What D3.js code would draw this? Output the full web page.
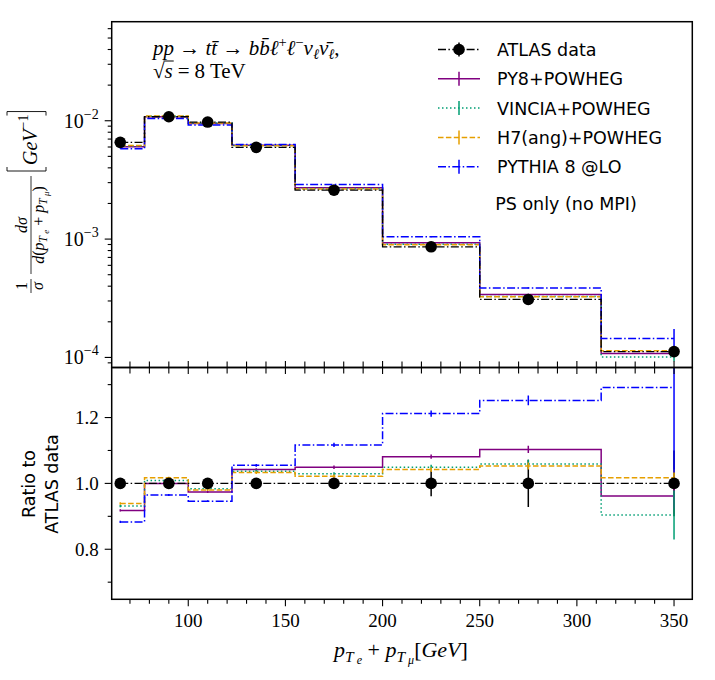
<!DOCTYPE html>
<html>
<head>
<meta charset="utf-8">
<script src="https://cdn.jsdelivr.net/npm/d3@7"></script>
<style>
  body { margin: 0; background: #fff; }
  .sans { font-family: 'DejaVu Sans', sans-serif; }
</style>
</head>
<body>
<div id="viz"></div>
<script>
// bin centres of pT(e) + pT(mu) in GeV
let ptSum = [65, 90, 110, 135, 175, 225, 275, 350];

// ATLAS data, normalised cross section [GeV^-1] and relative uncertainty
let atlasData = [6.57e-3, 1.081e-2, 9.75e-3, 5.96e-3, 2.59e-3, 8.61e-4, 3.09e-4, 1.12e-4];
let atlasErr  = [0.012, 0.010, 0.010, 0.012, 0.015, 0.039, 0.072, 0.10];

// predictions, top panel
let py8Powheg    = [6.03e-3, 1.081e-2, 9.50e-3, 6.21e-3, 2.72e-3, 9.31e-4, 3.41e-4, 1.077e-4];
let vinciaPowheg = [6.12e-3, 1.091e-2, 9.59e-3, 6.18e-3, 2.67e-3, 9.03e-4, 3.27e-4, 1.01e-4];
let h7Powheg     = [6.17e-3, 1.099e-2, 9.56e-3, 6.16e-3, 2.65e-3, 8.97e-4, 3.25e-4, 1.14e-4];
let pythiaLO     = [5.80e-3, 1.043e-2, 9.22e-3, 6.29e-3, 2.89e-3, 1.044e-3, 3.87e-4, 1.446e-4];

// ratio to ATLAS data, bottom panel
let atlasRatio  = [1, 1, 1, 1, 1, 1, 1, 1];
let py8Ratio    = [0.918, 1.000, 0.974, 1.042, 1.049, 1.081, 1.103, 0.962];
let vinciaRatio = [0.931, 1.009, 0.984, 1.037, 1.029, 1.049, 1.059, 0.904];
let h7Ratio     = [0.939, 1.017, 0.980, 1.033, 1.022, 1.042, 1.053, 1.017];
let pythiaRatio = [0.883, 0.965, 0.946, 1.055, 1.117, 1.212, 1.252, 1.291];

// MC statistical uncertainties (relative)
let py8Err    = [0.004, 0.003, 0.003, 0.004, 0.005, 0.006, 0.010, 0.040];
let vinciaErr = [0.004, 0.003, 0.003, 0.004, 0.005, 0.007, 0.012, 0.082];
let h7Err     = [0.004, 0.003, 0.003, 0.004, 0.005, 0.007, 0.010, 0.025];
let pythiaErr = [0.004, 0.003, 0.003, 0.004, 0.006, 0.008, 0.012, 0.200];

// tick labels
let xTicks = [100, 150, 200, 250, 300, 350];
let xMinor = [70, 80, 90, 110, 120, 130, 140, 160, 170, 180, 190, 210, 220, 230, 240, 260, 270, 280, 290, 310, 320, 330, 340];
let logTicks = [1e-4, 1e-3, 1e-2];
let logLabels = ['−4', '−3', '−2'];
let ratioTicks = [0.8, 1.0, 1.2];
let ratioMinor = [0.7, 0.9, 1.1, 1.3];

let series = [
  {name: 'PY8+POWHEG',     top: py8Powheg,    ratio: py8Ratio,    err: py8Err,    color: 'purple',  dash: null},
  {name: 'VINCIA+POWHEG',  top: vinciaPowheg, ratio: vinciaRatio, err: vinciaErr, color: '#009e73', dash: '1.5,2.5'},
  {name: 'H7(ang)+POWHEG', top: h7Powheg,     ratio: h7Ratio,     err: h7Err,     color: '#e69f00', dash: '5.5,2.4'},
  {name: 'PYTHIA 8 @LO',   top: pythiaLO,     ratio: pythiaRatio, err: pythiaErr, color: 'blue',    dash: '8,2.4,1.5,2.4'}
];

let W = 715, H = 680;
let left = 111.7, right = 692.3, topY = 21.7, midY = 367.5, bottomY = 599.3;

let svg = d3.select('#viz').append('svg')
  .attr('width', W).attr('height', H)
  .style('font-family', "'Liberation Serif', serif");

let x = d3.scaleLinear().domain([60.6, 359.4]).range([left, right]);
let yTop = d3.scaleLog().domain([8.22e-5, 6.87e-2]).range([midY, topY]);
let yRatio = d3.scaleLinear().domain([0.648, 1.352]).range([bottomY, midY]);

let defs = svg.append('defs');
defs.append('clipPath').attr('id', 'clipTop').append('rect')
  .attr('x', left).attr('y', topY).attr('width', right - left).attr('height', midY - topY);
defs.append('clipPath').attr('id', 'clipRatio').append('rect')
  .attr('x', left).attr('y', midY).attr('width', right - left).attr('height', bottomY - midY);

let gTop = svg.append('g').attr('clip-path', 'url(#clipTop)');
let gRatio = svg.append('g').attr('clip-path', 'url(#clipRatio)');

// draws one histogram (step at midpoints) with its error bars
function drawSeries(g, y, vals, err, color, dash, width) {
  let pts = ptSum.map((p, i) => [p, vals[i]]);
  g.selectAll(null).data(pts).join('line')
    .attr('x1', d => x(d[0])).attr('x2', d => x(d[0]))
    .attr('y1', (d, i) => y(d[1] * (1 - err[i])))
    .attr('y2', (d, i) => y(d[1] * (1 + err[i])))
    .attr('stroke', color).attr('stroke-width', 1.5);
  g.append('path')
    .datum(pts)
    .attr('d', d3.line().x(d => x(d[0])).y(d => y(d[1])).curve(d3.curveStep))
    .attr('fill', 'none')
    .attr('stroke', color)
    .attr('stroke-width', width)
    .attr('stroke-dasharray', dash);
}

function drawData(g, y, vals) {
  // data error bars first, underneath
  g.selectAll(null).data(vals).join('line')
    .attr('x1', (d, i) => x(ptSum[i])).attr('x2', (d, i) => x(ptSum[i]))
    .attr('y1', (d, i) => y(d * (1 - atlasErr[i])))
    .attr('y2', (d, i) => y(d * (1 + atlasErr[i])))
    .attr('stroke', '#000').attr('stroke-width', 1.5);
}

function drawDataTop(g, y, vals) {
  g.append('path')
    .datum(ptSum.map((p, i) => [p, vals[i]]))
    .attr('d', d3.line().x(d => x(d[0])).y(d => y(d[1])).curve(d3.curveStep))
    .attr('fill', 'none').attr('stroke', '#000').attr('stroke-width', 1.3)
    .attr('stroke-dasharray', '8,2.4,1.5,2.4');
  g.selectAll(null).data(vals).join('circle')
    .attr('cx', (d, i) => x(ptSum[i])).attr('cy', d => y(d)).attr('r', 5.8)
    .attr('fill', '#000');
}

// top panel
drawData(gTop, yTop, atlasData);
series.forEach(s => drawSeries(gTop, yTop, s.top, s.err, s.color, s.dash, 1.5));
drawDataTop(gTop, yTop, atlasData);

// ratio panel (ratio errors = relative error times ratio)
drawData(gRatio, yRatio, atlasRatio);
series.forEach(s => drawSeries(gRatio, yRatio, s.ratio, s.err, s.color, s.dash, 1.5));
drawDataTop(gRatio, yRatio, atlasRatio);

// frames
[[topY, midY], [midY, bottomY]].forEach(p => {
  svg.append('rect').attr('x', left).attr('y', p[0]).attr('width', right - left).attr('height', p[1] - p[0])
    .attr('fill', 'none').attr('stroke', '#000').attr('stroke-width', 1.5);
});

let ticks = svg.append('g').attr('stroke', '#000').attr('stroke-width', 1.1);

// top y axis ticks (log)
let logMinor = yTop.ticks().filter(v => logTicks.indexOf(v) < 0 && Math.abs(Math.log10(v) - Math.round(Math.log10(v))) > 1e-6);
logTicks.forEach(v => ticks.append('line').attr('x1', left - 7).attr('x2', left).attr('y1', yTop(v)).attr('y2', yTop(v)));
logMinor.forEach(v => ticks.append('line').attr('x1', left - 4).attr('x2', left).attr('y1', yTop(v)).attr('y2', yTop(v)));
logTicks.forEach((v, i) => {
  let t = svg.append('text').attr('x', left - 13).attr('y', yTop(v) + 7)
    .attr('text-anchor', 'end').attr('font-size', 20);
  t.append('tspan').text('10');
  t.append('tspan').attr('dy', -9).attr('font-size', 14).text(logLabels[i]);
});

// ratio y axis ticks
ratioTicks.forEach(v => ticks.append('line').attr('x1', left - 7).attr('x2', left).attr('y1', yRatio(v)).attr('y2', yRatio(v)));
ratioMinor.forEach(v => ticks.append('line').attr('x1', left - 4).attr('x2', left).attr('y1', yRatio(v)).attr('y2', yRatio(v)));
ratioTicks.forEach(v => {
  svg.append('text').attr('x', left - 13).attr('y', yRatio(v) + 6.5)
    .attr('text-anchor', 'end').attr('font-size', 19).text(d3.format('.1f')(v));
});

// x ticks: bottom axis and shared boundary
xTicks.forEach(v => {
  ticks.append('line').attr('x1', x(v)).attr('x2', x(v)).attr('y1', bottomY).attr('y2', bottomY + 7);
  ticks.append('line').attr('x1', x(v)).attr('x2', x(v)).attr('y1', midY - 6.5).attr('y2', midY + 6.5);
  svg.append('text').attr('x', x(v)).attr('y', 627).attr('text-anchor', 'middle').attr('font-size', 19).text(v);
});
xMinor.forEach(v => {
  ticks.append('line').attr('x1', x(v)).attr('x2', x(v)).attr('y1', bottomY).attr('y2', bottomY + 4.5);
  ticks.append('line').attr('x1', x(v)).attr('x2', x(v)).attr('y1', midY - 6).attr('y2', midY + 6);
});

// x axis label
let xl = svg.append('text').attr('x', 401).attr('y', 657).attr('text-anchor', 'middle')
  .attr('font-size', 22).attr('font-style', 'italic');
xl.append('tspan').text('p');
xl.append('tspan').attr('dy', 4.5).attr('font-size', 15.5).text('T');
xl.append('tspan').attr('dy', 2.5).attr('font-size', 12).text(' e');
xl.append('tspan').attr('dy', -7).attr('font-style', 'normal').text(' + ');
xl.append('tspan').text('p');
xl.append('tspan').attr('dy', 4.5).attr('font-size', 15.5).text('T');
xl.append('tspan').attr('dy', 2.5).attr('font-size', 12).text(' μ');
xl.append('tspan').attr('dy', -7).attr('font-style', 'normal').text('[');
xl.append('tspan').text('GeV');
xl.append('tspan').attr('font-style', 'normal').text(']');

// top y label, rotated, built from pieces
let yl = svg.append('g').attr('transform', 'translate(31,198) rotate(-90)').attr('font-style', 'italic');
yl.append('text').attr('x', -88).attr('y', -4).attr('text-anchor', 'middle').attr('font-size', 16).attr('font-style', 'normal').text('1');
yl.append('line').attr('x1', -95).attr('x2', -81).attr('y1', 0).attr('y2', 0).attr('stroke', '#000').attr('stroke-width', 0.8);
yl.append('text').attr('x', -88).attr('y', 12).attr('text-anchor', 'middle').attr('font-size', 16).text('σ');
yl.append('text').attr('x', -27).attr('y', -4).attr('text-anchor', 'middle').attr('font-size', 16).text('dσ');
yl.append('line').attr('x1', -76).attr('x2', 22).attr('y1', 0).attr('y2', 0).attr('stroke', '#000').attr('stroke-width', 0.8);
let den = yl.append('text').attr('x', -27).attr('y', 13).attr('text-anchor', 'middle').attr('font-size', 16);
den.append('tspan').text('d');
den.append('tspan').attr('font-style', 'normal').text('(');
den.append('tspan').text('p');
den.append('tspan').attr('dy', 3).attr('font-size', 11.5).text('T');
den.append('tspan').attr('dy', 1.5).attr('font-size', 9).text(' e');
den.append('tspan').attr('dy', -4.5).attr('font-style', 'normal').text(' + ');
den.append('tspan').text('p');
den.append('tspan').attr('dy', 3).attr('font-size', 11.5).text('T');
den.append('tspan').attr('dy', 1.5).attr('font-size', 9).text(' μ');
den.append('tspan').attr('dy', -4.5).attr('font-style', 'normal').text(')');
// brackets around GeV^-1
yl.append('path').attr('d', 'M31,-24 L27,-24 L27,15 L31,15').attr('fill', 'none').attr('stroke', '#000').attr('stroke-width', 0.9);
let gev = yl.append('text').attr('x', 33).attr('y', 6).attr('font-size', 20);
gev.append('tspan').text('GeV');
gev.append('tspan').attr('dy', -9).attr('font-size', 14).attr('font-style', 'normal').text('−1');
let gevEnd = 33 + gev.node().getComputedTextLength() + 3;
yl.append('path').attr('d', `M${gevEnd - 4},-24 L${gevEnd},-24 L${gevEnd},15 L${gevEnd - 4},15`)
  .attr('fill', 'none').attr('stroke', '#000').attr('stroke-width', 0.9);

// ratio y label
let rl = svg.append('g').attr('transform', 'translate(0,484) rotate(-90)')
  .attr('class', 'sans').attr('font-size', 17.5).attr('text-anchor', 'middle');
rl.append('text').attr('x', 0).attr('y', 35).text('Ratio to');
rl.append('text').attr('x', 0).attr('y', 58).text('ATLAS data');

// process label
let t1 = svg.append('text').attr('x', 153).attr('y', 55).attr('font-size', 21);
t1.append('tspan').attr('font-style', 'italic').text('pp');
t1.append('tspan').text(' → ');
t1.append('tspan').attr('font-style', 'italic').text('tt\u0304');
t1.append('tspan').text(' → ');
t1.append('tspan').attr('font-style', 'italic').text('bb\u0304ℓ');
t1.append('tspan').attr('dy', -8).attr('font-size', 14.5).text('+');
t1.append('tspan').attr('dy', 8).attr('font-style', 'italic').text('ℓ');
t1.append('tspan').attr('dy', -8).attr('font-size', 14.5).text('−');
t1.append('tspan').attr('dy', 8).attr('font-style', 'italic').text('ν');
t1.append('tspan').attr('dy', 4).attr('font-size', 14.5).attr('font-style', 'italic').text('ℓ');
t1.append('tspan').attr('dy', -4).attr('font-style', 'italic').text('ν\u0304');
t1.append('tspan').attr('dy', 4).attr('font-size', 14.5).attr('font-style', 'italic').text('ℓ');
t1.append('tspan').attr('dy', -4).text(',');

let t2 = svg.append('text').attr('x', 153).attr('y', 78).attr('font-size', 21);
t2.append('tspan').text('√');
t2.append('tspan').attr('font-style', 'italic').text('s');
t2.append('tspan').attr('dx', 5).text('=');
t2.append('tspan').attr('dx', 5).text('8 TeV');
let sBox = t2.node().getExtentOfChar(1);
svg.append('line').attr('x1', sBox.x - 1).attr('x2', sBox.x + sBox.width + 1)
  .attr('y1', 61).attr('y2', 61).attr('stroke', '#000').attr('stroke-width', 1);

// legend
let legX0 = 438, legX1 = 480, legTextX = 497, legY0 = 49.5, legStep = 29.3;
let leg = svg.append('g');
let legItems = [{name: 'ATLAS data', color: '#000', dash: '8,2.4,1.5,2.4'}].concat(series);
legItems.forEach((s, i) => {
  let yy = legY0 + i * legStep;
  leg.append('line').attr('x1', legX0).attr('x2', legX1).attr('y1', yy).attr('y2', yy)
    .attr('stroke', s.color).attr('stroke-width', 1.5).attr('stroke-dasharray', s.dash);
  leg.append('line').attr('x1', (legX0 + legX1) / 2).attr('x2', (legX0 + legX1) / 2)
    .attr('y1', yy - 7).attr('y2', yy + 7).attr('stroke', s.color).attr('stroke-width', 1.5);
  if (i === 0) leg.append('circle').attr('cx', (legX0 + legX1) / 2).attr('cy', yy).attr('r', 5.8).attr('fill', '#000');
  leg.append('text').attr('class', 'sans').attr('x', legTextX).attr('y', yy + 6.5)
    .attr('font-size', 17.5).text(s.name);
});
leg.append('text').attr('class', 'sans').attr('x', 566).attr('y', 210)
  .attr('text-anchor', 'middle').attr('font-size', 17.5).text('PS only (no MPI)');
</script>
</body>
</html>
